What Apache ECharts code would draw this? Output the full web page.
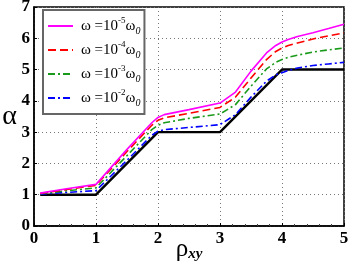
<!DOCTYPE html>
<html><head><meta charset="utf-8">
<script src="https://cdn.jsdelivr.net/npm/echarts@6/dist/echarts.min.js"></script>
<style>html,body{margin:0;padding:0;background:#fff}#c{width:349px;height:268px}</style>
</head><body><div id="c"></div>
<script>
// x positions (rho_xy)
const xs = [0.1, 0.5, 1, 1.5, 1.9, 2, 2.1, 2.5, 3, 3.25, 3.5, 3.75, 3.9, 4, 4.1, 4.25, 4.5, 4.75, 5];
// series values
const w5 = [1.05, 1.18, 1.33, 2.45, 3.30, 3.47, 3.56, 3.72, 3.93, 4.28, 4.95, 5.53, 5.77, 5.88, 5.96, 6.06, 6.18, 6.31, 6.45];
const w4 = [1.04, 1.16, 1.30, 2.38, 3.22, 3.38, 3.46, 3.60, 3.79, 4.12, 4.73, 5.32, 5.58, 5.69, 5.77, 5.85, 5.98, 6.08, 6.17];
const w3 = [1.03, 1.12, 1.22, 2.25, 3.08, 3.22, 3.30, 3.44, 3.58, 3.88, 4.47, 5.02, 5.23, 5.32, 5.39, 5.46, 5.56, 5.63, 5.69];
const w2 = [1.02, 1.07, 1.13, 2.10, 2.90, 3.03, 3.08, 3.15, 3.24, 3.56, 4.12, 4.63, 4.83, 4.90, 4.97, 5.05, 5.13, 5.18, 5.23];
const baseX = [0.1, 1, 2, 3, 4, 5];
const baseY = [1, 1, 3, 3, 5, 5];
const names = ['w5', 'w4', 'w3', 'w2'];
const exps = ['-5', '-4', '-3', '-2'];
const xTicks = [0, 1, 2, 3, 4, 5];
const yTicks = [0, 1, 2, 3, 4, 5, 6, 7];

const pairs = (a, b) => a.map((x, i) => [x, b[i]]);
const serif = 'Liberation Serif';
const chart = echarts.init(document.getElementById('c'), null, {renderer: 'canvas'});
const styles = [
  {color: '#ff00ff', type: 'solid'},
  {color: '#ff0000', type: [8, 4]},
  {color: '#1a9a1a', type: [7, 3, 2, 3]},
  {color: '#0000ff', type: [7, 3, 2, 3]}
];
const vals = [w5, w4, w3, w2];
const series = vals.map((v, i) => ({
  name: names[i], type: 'line', data: pairs(xs, v), showSymbol: false, symbol: 'none',
  smooth: false, z: 3 + (3 - i),
  lineStyle: {color: styles[i].color, width: 1.6, type: styles[i].type},
  itemStyle: {color: styles[i].color}
}));
series.push({type: 'line', data: pairs(baseX, baseY), symbol: 'none', z: 2,
  lineStyle: {color: '#000', width: 2.4}});

chart.setOption({
  animation: false,
  grid: {left: 34, right: 5, top: 7, bottom: 42, show: true, borderColor: '#000', borderWidth: 1.5,
    outerBoundsMode: 'none', containLabel: false},
  legend: {
    data: names, orient: 'vertical', left: 43, top: 10,
    backgroundColor: '#fff', borderColor: '#666', borderWidth: 2,
    padding: [6, 4, 6, 4], itemWidth: 25, itemHeight: 14, itemGap: 4,
    itemStyle: {color: 'transparent', borderWidth: 0, opacity: 0},
    formatter: n => '{f|ω =10}{sup|' + exps[names.indexOf(n)] + '}{a|ω}{sub|0}',
    textStyle: {
      rich: {
        f: {fontFamily: serif, fontSize: 15, color: '#000', lineHeight: 20, verticalAlign: 'middle', padding: [0, 0, 0, 3]},
        a: {fontFamily: serif, fontSize: 15, color: '#000', lineHeight: 20, verticalAlign: 'middle'},
        sup: {fontFamily: serif, fontSize: 9, color: '#000', lineHeight: 12, verticalAlign: 'top'},
        sub: {fontFamily: serif, fontSize: 10, fontStyle: 'italic', color: '#000', lineHeight: 12, verticalAlign: 'bottom'}
      }
    }
  },
  xAxis: {
    type: 'value', min: 0, max: 5, interval: 1,
    name: '{r|ρ}{s|xy}', nameLocation: 'middle', nameGap: 10, nameMoveOverlap: false,
    nameTextStyle: {rich: {
      r: {fontFamily: serif, fontSize: 25, color: '#000', lineHeight: 26, verticalAlign: 'middle'},
      s: {fontFamily: serif, fontSize: 15, fontStyle: 'italic', fontWeight: 'bold', color: '#000', lineHeight: 14, verticalAlign: 'bottom'}
    }},
    axisLine: {lineStyle: {color: '#000', width: 1.5}},
    axisTick: {inside: true, length: 3, lineStyle: {color: '#000'}},
    minorTick: {show: true, splitNumber: 5, length: 2, lineStyle: {color: '#444'}},
    axisLabel: {fontFamily: serif, fontWeight: 'bold', fontSize: 17, color: '#000', margin: 4,
      formatter: v => xTicks.includes(v) ? String(v) : ''},
    splitLine: {show: true, lineStyle: {color: '#777', type: [1, 3], width: 1}}
  },
  yAxis: {
    type: 'value', min: 0, max: 7, interval: 1,
    name: 'α', nameLocation: 'middle', nameGap: 17, nameRotate: 0, nameMoveOverlap: false,
    nameTextStyle: {fontFamily: serif, fontSize: 28, color: '#000'},
    axisLine: {show: true, lineStyle: {color: '#000', width: 1.5}},
    axisTick: {show: true, inside: true, length: 3, lineStyle: {color: '#000'}},
    axisLabel: {fontFamily: serif, fontWeight: 'bold', fontSize: 17, color: '#000', margin: 4,
      formatter: v => yTicks.includes(v) ? String(v) : ''},
    splitLine: {show: true, lineStyle: {color: '#777', type: [1, 3], width: 1}}
  },
  series: series
});
</script></body></html>
